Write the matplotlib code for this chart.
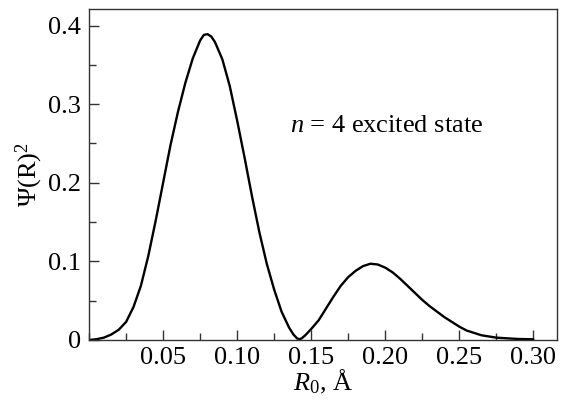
import matplotlib
matplotlib.use("Agg")
from matplotlib import pyplot as plt
from matplotlib.ticker import FixedLocator, MultipleLocator

# values
r0 = [0.000, 0.005, 0.010, 0.015, 0.020, 0.025, 0.030, 0.035, 0.040, 0.045,
      0.050, 0.055, 0.060, 0.065, 0.070, 0.075, 0.0775, 0.080, 0.0825, 0.085,
      0.090, 0.095, 0.100, 0.105, 0.110, 0.115, 0.120, 0.125, 0.130, 0.135,
      0.138, 0.1405, 0.142, 0.1435, 0.146, 0.150, 0.155, 0.160, 0.165, 0.170,
      0.175, 0.180, 0.185, 0.190, 0.195, 0.200, 0.205, 0.210, 0.215, 0.220,
      0.225, 0.230, 0.235, 0.240, 0.245, 0.250, 0.255, 0.260, 0.265, 0.270,
      0.275, 0.280, 0.285, 0.290, 0.295, 0.300]
psi2 = [0.000, 0.001, 0.003, 0.007, 0.013, 0.023, 0.042, 0.069, 0.107, 0.152,
        0.200, 0.248, 0.290, 0.327, 0.358, 0.381, 0.388, 0.389, 0.386, 0.379,
        0.357, 0.323, 0.279, 0.232, 0.183, 0.137, 0.097, 0.064, 0.036, 0.016,
        0.007, 0.002, 0.001, 0.002, 0.006, 0.014, 0.025, 0.040, 0.055, 0.069,
        0.080, 0.088, 0.094, 0.097, 0.096, 0.092, 0.086, 0.078, 0.069, 0.060,
        0.051, 0.043, 0.036, 0.029, 0.023, 0.017, 0.012, 0.009, 0.006, 0.0045,
        0.003, 0.0024, 0.0018, 0.0013, 0.0011, 0.0009]

xticks = [0.05, 0.10, 0.15, 0.20, 0.25, 0.30]
xtick_labels = ["0.05", "0.10", "0.15", "0.20", "0.25", "0.30"]
yticks = [0, 0.1, 0.2, 0.3, 0.4]
ytick_labels = ["0", "0.1", "0.2", "0.3", "0.4"]

plt.rcParams['font.family'] = ['Liberation Serif', 'DejaVu Serif']
plt.rcParams['mathtext.fontset'] = 'custom'
plt.rcParams['mathtext.rm'] = 'Liberation Serif'
plt.rcParams['mathtext.it'] = 'Liberation Serif:italic'

fig = plt.figure(figsize=(5.71, 4.05), dpi=100)
ax = fig.add_axes([0.156, 0.1605, 0.8195, 0.8173])

ax.plot(r0, psi2, color='black', lw=1.7, solid_joinstyle='round',
        solid_capstyle='round')

ax.set_xlim(0, 0.316)
ax.set_ylim(0, 0.421)

ax.xaxis.set_major_locator(FixedLocator(xticks))
ax.set_xticklabels(xtick_labels)
ax.xaxis.set_minor_locator(MultipleLocator(0.025))
ax.yaxis.set_major_locator(FixedLocator(yticks))
ax.set_yticklabels(ytick_labels)
ax.yaxis.set_minor_locator(MultipleLocator(0.05))

ax.tick_params(which='both', direction='in', color='#333333', width=1.0,
               labelsize=19, top=False, right=False)
ax.tick_params(which='major', length=7)
ax.tick_params(which='minor', length=5)
ax.tick_params(axis='y', pad=6)
ax.tick_params(axis='x', pad=5)
for s in ax.spines.values():
    s.set_color('#333333')
    s.set_linewidth(1.0)

ax.set_xlabel(r"$R_0$, Å", fontsize=19, labelpad=-1)
ax.set_ylabel(r"Ψ(R)$^2$", fontsize=19, labelpad=2)

ax.text(0.1358, 0.265, r"$n$ = 4 excited state", fontsize=19)

fig.savefig("out.png", dpi=100)
